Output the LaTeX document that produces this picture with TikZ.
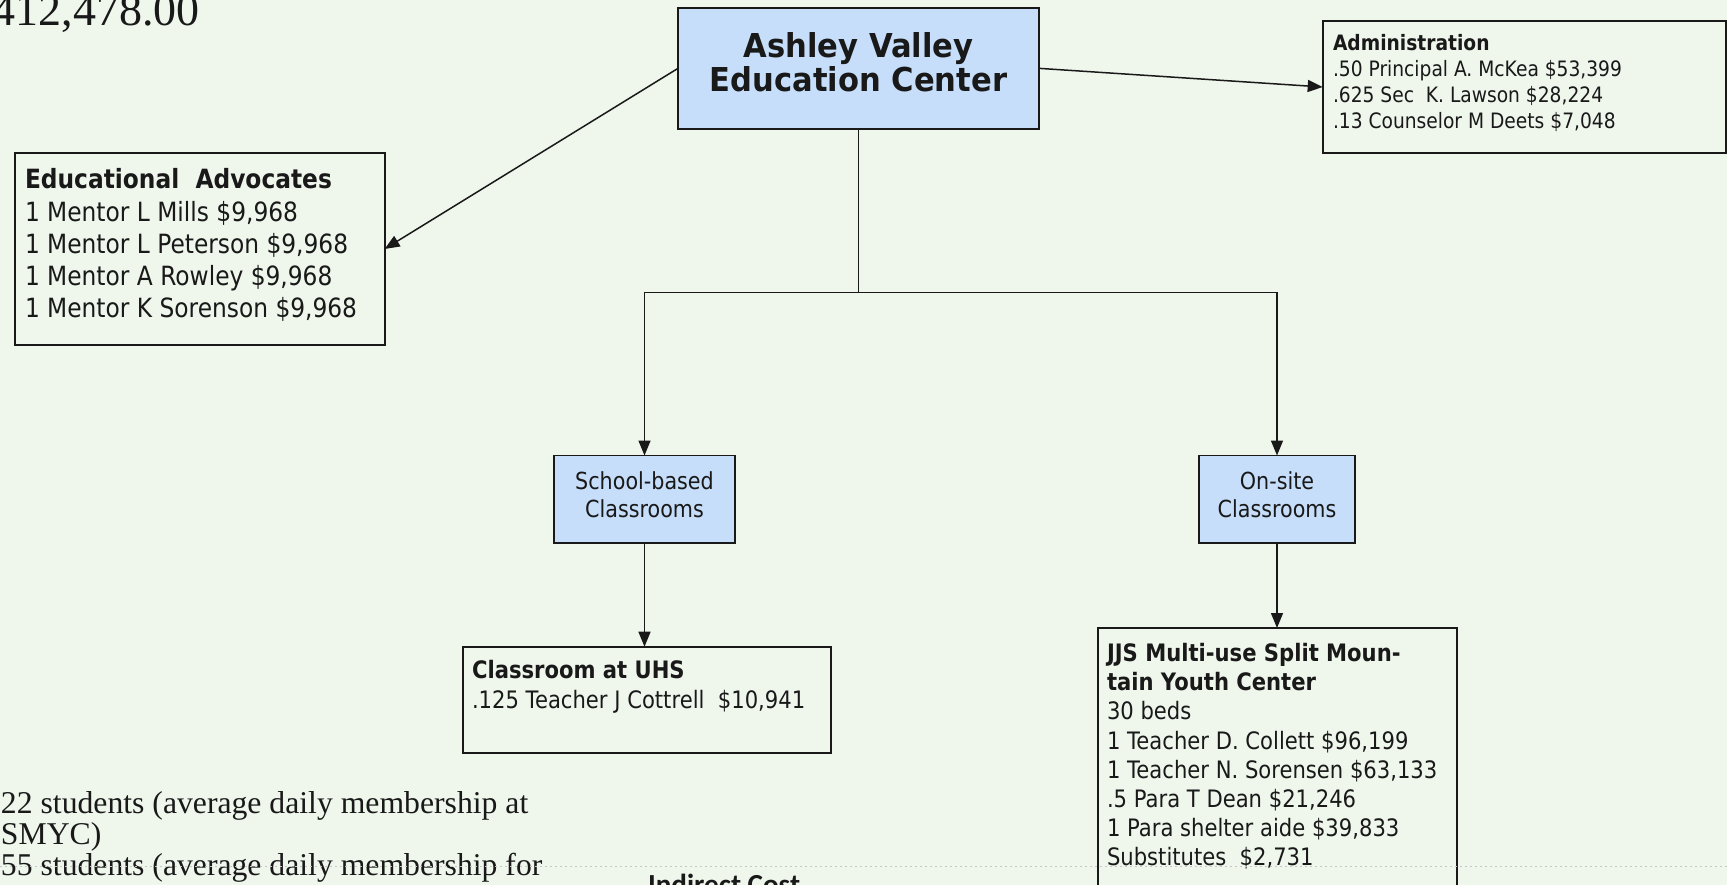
\documentclass[tikz,border=0pt]{standalone}
\usepackage{fontspec}
\setmainfont{Liberation Serif}
\newfontfamily\tah{DejaVu Sans}[FakeStretch=0.88]
\newfontfamily\tahtitle{DejaVu Sans}[FakeStretch=0.93]
\newfontfamily\calib{Carlito}
\usetikzlibrary{arrows.meta}
\definecolor{bg}{RGB}{239,247,236}
\definecolor{boxblue}{RGB}{198,222,250}
\definecolor{ink}{RGB}{25,25,25}
\newcommand\firstht[1]{\rule{0pt}{#1pt}}
\tikzset{
  box/.style 2 args={draw=ink, line width=1.8pt, inner sep=0pt, outer sep=0pt,
    anchor=north west, minimum width=#1, minimum height=#2},
  bluebox/.style 2 args={box={#1}{#2}, fill=boxblue},
  txt/.style={inner sep=0pt, outer sep=0pt, text=ink},
  conn/.style={draw=ink, line width=1.5pt},
  arr/.style={conn, -{Triangle[length=15pt,width=12pt]}}
}
\begin{document}
\begin{tikzpicture}[x=1pt,y=-1pt]
\path[use as bounding box] (0,0) rectangle (1727,885);
\clip (0,0) rectangle (1727,885);
\fill[bg] (0,0) rectangle (1727,885);

% boxes
\node[bluebox={361pt}{121.3pt}] (main) at (678,7.7) {};
\node[box={369.3pt}{192pt}] (ea) at (15.3,153) {};
\node[box={403pt}{132pt}] (adm) at (1322.7,21) {};
\node[bluebox={181pt}{87.5pt}] (sb) at (554,455.5) {};
\node[bluebox={156pt}{87.5pt}] (os) at (1199,455.5) {};
\node[box={368pt}{106pt}] (uhs) at (462.7,646.7) {};
\node[box={359pt}{280pt}] (jjs) at (1098,628) {};

% texts
\node[txt, anchor=north, align=center, font=\tahtitle\bfseries\fontsize{32.9}{34.4}\selectfont] (main-t) at (858.5,30.3)
  {\firstht{27}Ashley Valley\\Education Center};
\node[txt, anchor=north west, align=left, font=\tah\fontsize{26.5}{32.2}\selectfont] (ea-t) at (25,167)
  {\firstht{22}\textbf{Educational\ \ Advocates}\\1 Mentor L Mills \$9,968\\1 Mentor L Peterson \$9,968\\1 Mentor A Rowley \$9,968\\1 Mentor K Sorenson \$9,968};
\node[txt, anchor=north west, align=left, font=\tah\fontsize{21.2}{25.9}\selectfont] (adm-t) at (1333,32.5)
  {\firstht{18}\textbf{Administration}\\.50 Principal A. McKea \$53,399\\.625 Sec\ \ K. Lawson \$28,224\\.13 Counselor M Deets \$7,048};
\node[txt, anchor=north, align=center, font=\tah\fontsize{23.5}{28.5}\selectfont] (sb-t) at (644.5,469)
  {\firstht{20}School-based\\Classrooms};
\node[txt, anchor=north, align=center, font=\tah\fontsize{23.5}{28.5}\selectfont] (os-t) at (1277,469)
  {\firstht{20}On-site\\Classrooms};
\node[txt, anchor=north west, align=left, font=\tah\fontsize{24}{30}\selectfont] (uhs-t) at (472,658)
  {\firstht{20}\textbf{Classroom at UHS}\\.125 Teacher J Cottrell\ \ \$10,941};
\node[txt, anchor=north west, align=left, font=\tah\fontsize{24}{29.2}\selectfont] (jjs-t) at (1107,641.5)
  {\firstht{20}\textbf{JJS Multi-use Split Moun-}\\\textbf{tain Youth Center}\\30 beds\\1 Teacher D. Collett \$96,199\\1 Teacher N. Sorensen \$63,133\\.5 Para T Dean \$21,246\\1 Para shelter aide \$39,833\\Substitutes\ \ \$2,731};

\node[txt, anchor=base east, font=\fontsize{46}{50}\selectfont] (total) at (200,26) {412,478.00};
\node[txt, anchor=north west, align=left, font=\fontsize{31.7}{31}\selectfont] (students) at (1,790)
  {\firstht{23}22 students (average daily membership at\\SMYC)\\55 students (average daily membership for};
\node[txt, anchor=base west, font=\calib\bfseries\fontsize{29.1}{34}\selectfont] (indirect) at (648,894.7) {Indirect Cost};

% faint scan line
\draw[gray!45, line width=0.8pt, dash pattern=on 2pt off 3pt] (0,866) -- (1727,866);

% connectors
\coordinate (bus) at (858.5,292.5);
\draw[arr] (main.west) -- (ea.east);
\draw[arr] (main.east) -- (adm.west);
\draw[conn] (main.south) -- (bus);
\draw[arr] (bus) -| (sb.north);
\draw[arr] (bus) -| (os.north);
\draw[arr] (sb.south) -- (sb.south |- uhs.north);
\draw[arr] (os.south) -- (os.south |- jjs.north);
\end{tikzpicture}
\end{document}
